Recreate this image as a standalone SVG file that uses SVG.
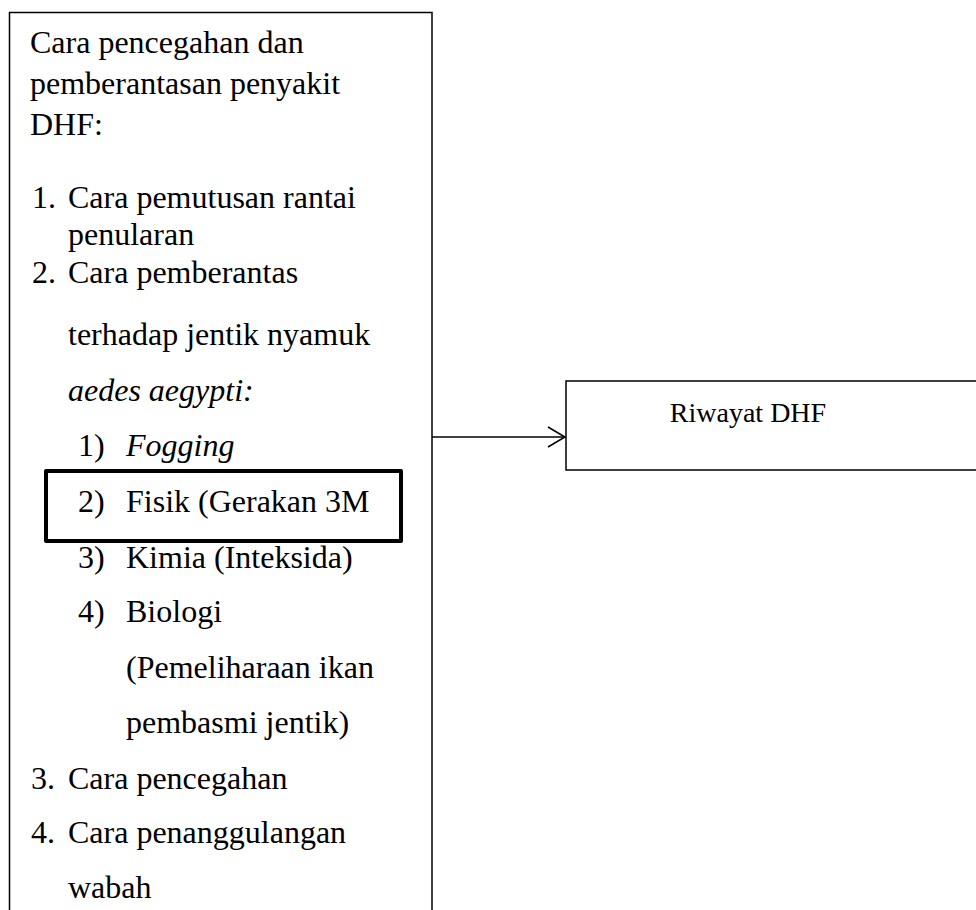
<svg xmlns="http://www.w3.org/2000/svg" width="976" height="910" viewBox="0 0 976 910">
<style>
.t{font-family:"Liberation Serif","Times New Roman",Times,serif;font-size:32px;fill:#000}
.i{font-style:italic}
.s{font-size:28px}
.box{fill:none;stroke:#000;stroke-width:1.5}
</style>
<rect width="976" height="910" fill="#fff"/>
<g id="node-pencegahan">
<path class="box" d="M9.5,915 V12.5 H432 V915"/>
<text class="t" x="30" y="53">Cara pencegahan dan</text>
<text class="t" x="30" y="94">pemberantasan penyakit</text>
<text class="t" x="30" y="135">DHF:</text>
<text class="t" x="32" y="208">1.</text><text class="t" x="68" y="208">Cara pemutusan rantai</text>
<text class="t" x="68" y="245">penularan</text>
<text class="t" x="32" y="283">2.</text><text class="t" x="68" y="283">Cara pemberantas</text>
<text class="t" x="68" y="345">terhadap jentik nyamuk</text>
<text class="t i" x="68" y="401">aedes aegypti:</text>
<text class="t" x="78" y="456">1)</text><text class="t i" x="126" y="456">Fogging</text>
<text class="t" x="78" y="512">2)</text><text class="t" x="126" y="512">Fisik (Gerakan 3M</text>
<text class="t" x="78" y="568">3)</text><text class="t" x="126" y="568">Kimia (Inteksida)</text>
<text class="t" x="78" y="622">4)</text><text class="t" x="126" y="622">Biologi</text>
<text class="t" x="126" y="678">(Pemeliharaan ikan</text>
<text class="t" x="126" y="733">pembasmi jentik)</text>
<text class="t" x="31" y="789">3.</text><text class="t" x="68" y="789">Cara pencegahan</text>
<text class="t" x="31" y="843">4.</text><text class="t" x="68" y="843">Cara penanggulangan</text>
<text class="t" x="68" y="898">wabah</text>
</g>
<g id="node-fisik-highlight">
<rect x="46" y="471" width="355" height="70" fill="none" stroke="#000" stroke-width="4" stroke-linejoin="round"/>
</g>
<g id="node-riwayat">
<path class="box" d="M985,381 H566 V470 H985"/>
<text class="t s" x="748" y="422" text-anchor="middle">Riwayat DHF</text>
</g>
<g id="connectors">
<line x1="432" y1="437" x2="565" y2="437" stroke="#000" stroke-width="1.5"/>
<polyline points="548,427 565,437 548,447" fill="none" stroke="#000" stroke-width="1.5"/>
</g>
</svg>
